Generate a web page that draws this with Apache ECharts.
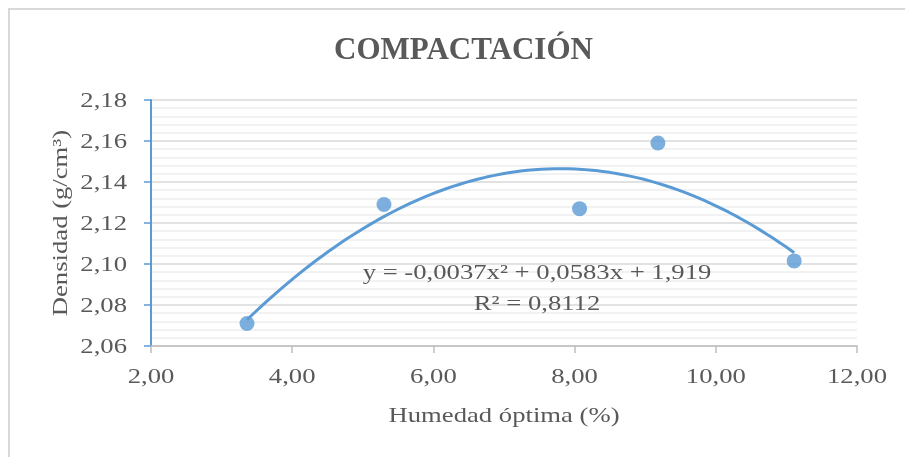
<!DOCTYPE html>
<html>
<head>
<meta charset="utf-8">
<script src="https://cdn.jsdelivr.net/npm/echarts@6/dist/echarts.min.js"></script>
<style>
  html, body { margin: 0; padding: 0; background: #ffffff; }
  #chart { width: 905px; height: 457px; }
</style>
</head>
<body>
<div id="chart"></div>
<script>
// Compaction test: optimum moisture (%) vs. dry density (g/cm³)
const humedad = [3.36, 5.30, 8.07, 9.18, 11.11];
const densidad = [2.071, 2.129, 2.127, 2.159, 2.1015];

// Second-order polynomial trendline, coefficients [a, b, c] for y = a·x² + b·x + c
// (kept at full precision; the equation label shows them rounded)
const trendCoef = [-0.00374, 0.05834, 1.9190];
const rSquared = 0.8112;

// Axis ticks
const xTicks = [2, 4, 6, 8, 10, 12];
const yTicks = [2.06, 2.08, 2.10, 2.12, 2.14, 2.16, 2.18];

const titleText = 'COMPACTACIÓN';
const xAxisName = 'Humedad óptima (%)';
const yAxisName = 'Densidad (g/cm³)';

const fmt = (v, d) => v.toFixed(d).replace('.', ',');
const points = humedad.map((x, i) => [x, densidad[i]]);

// Sample the fitted curve across the span of the measurements
const xMin = Math.min(...humedad), xMax = Math.max(...humedad);
const trend = [];
for (let i = 0; i <= 80; i++) {
  const x = xMin + (xMax - xMin) * i / 80;
  trend.push([x, trendCoef[0] * x * x + trendCoef[1] * x + trendCoef[2]]);
}

const eqText = 'y = ' + fmt(trendCoef[0], 4) + 'x² + ' + fmt(trendCoef[1], 4) + 'x + ' + fmt(trendCoef[2], 3)
  + '\nR² = ' + fmt(rSquared, 4);

const FONT = '"Liberation Serif", "Times New Roman", serif';
const TXT = '#595959';
const BLUE = '#5b9bd5';
const WIDE = 1.27;   // body text is set in a wide serif face
const FS = 21;

const chart = echarts.init(document.getElementById('chart'), null, { renderer: 'canvas' });
chart.setOption({
  animation: false,
  backgroundColor: '#ffffff',
  textStyle: { fontFamily: FONT },
  title: {
    text: titleText,
    left: 329,
    top: 30,
    textStyle: { fontFamily: FONT, fontSize: 31, fontWeight: 'bold', color: TXT }
  },
  grid: { left: 151, right: 48, top: 100, bottom: 111, containLabel: false },
  xAxis: {
    type: 'value',
    min: xTicks[0], max: xTicks[xTicks.length - 1], interval: xTicks[1] - xTicks[0],
    axisLine: { show: true, lineStyle: { color: '#bfbfbf', width: 1.5 } },
    axisTick: { show: true, length: 7, lineStyle: { color: '#bfbfbf', width: 1.5 } },
    axisLabel: { show: false },
    splitLine: { show: false }
  },
  yAxis: {
    type: 'value',
    min: yTicks[0], max: yTicks[yTicks.length - 1], interval: 0.02,
    axisLine: { show: true, lineStyle: { color: BLUE, width: 2 } },
    axisTick: { show: true, length: 7, lineStyle: { color: BLUE, width: 1.5 } },
    axisLabel: { show: false },
    splitLine: { show: true, lineStyle: { color: '#d9d9d9', width: 1.5 } },
    minorTick: { show: false, splitNumber: 5 },
    minorSplitLine: { show: true, lineStyle: { color: '#eeeeee', width: 1.5 } }
  },
  series: [
    {
      type: 'line',
      data: trend,
      showSymbol: false,
      smooth: false,
      lineStyle: { color: BLUE, width: 3 },
      z: 2
    },
    {
      type: 'scatter',
      data: points,
      symbol: 'circle',
      symbolSize: 15,
      itemStyle: { color: BLUE },
      z: 3
    }
  ]
});

// Text set in the wide face: tick labels, axis names and the trendline equation,
// placed through the chart's own coordinate conversion.
const toPx = (x, y) => chart.convertToPixel({ gridIndex: 0 }, [x, y]);
const textStyle = (text, align, vAlign, extra) => Object.assign({
  text: text, fontFamily: FONT, fontSize: FS, fill: TXT, align: align, verticalAlign: vAlign
}, extra || {});

const graphics = [
  {
    type: 'rect',
    shape: { x: 9, y: 9, width: 1000, height: 1000 },
    style: { fill: 'none', stroke: '#d9d9d9', lineWidth: 2 },
    silent: true, z: 100
  }
];

const xBase = yTicks[0];
const xLeft = xTicks[0];
xTicks.forEach(t => {
  const p = toPx(t, xBase);
  graphics.push({ type: 'text', x: p[0], y: p[1] + 31, scaleX: WIDE, style: textStyle(fmt(t, 2), 'center', 'middle'), z: 50 });
});
yTicks.forEach(t => {
  const p = toPx(xLeft, t);
  graphics.push({ type: 'text', x: p[0] - 24, y: p[1] + 1, scaleX: WIDE, style: textStyle(fmt(t, 2), 'right', 'middle'), z: 50 });
});

const gridBL = toPx(xTicks[0], yTicks[0]);
const gridTR = toPx(xTicks[xTicks.length - 1], yTicks[yTicks.length - 1]);
const midX = (gridBL[0] + gridTR[0]) / 2;
const midY = (gridBL[1] + gridTR[1]) / 2;

graphics.push({ type: 'text', x: midX, y: gridBL[1] + 70, scaleX: WIDE, style: textStyle(xAxisName, 'center', 'middle'), z: 50 });
graphics.push({ type: 'text', x: gridBL[0] - 90, y: midY, rotation: Math.PI / 2, scaleX: WIDE, style: textStyle(yAxisName, 'center', 'middle'), z: 50 });

// Trendline equation and coefficient of determination
graphics.push({
  type: 'text', x: 537, y: 258, scaleX: WIDE,
  style: textStyle(eqText, 'center', 'top', { lineHeight: 31 }),
  z: 100
});

chart.setOption({ graphic: graphics });
</script>
</body>
</html>
